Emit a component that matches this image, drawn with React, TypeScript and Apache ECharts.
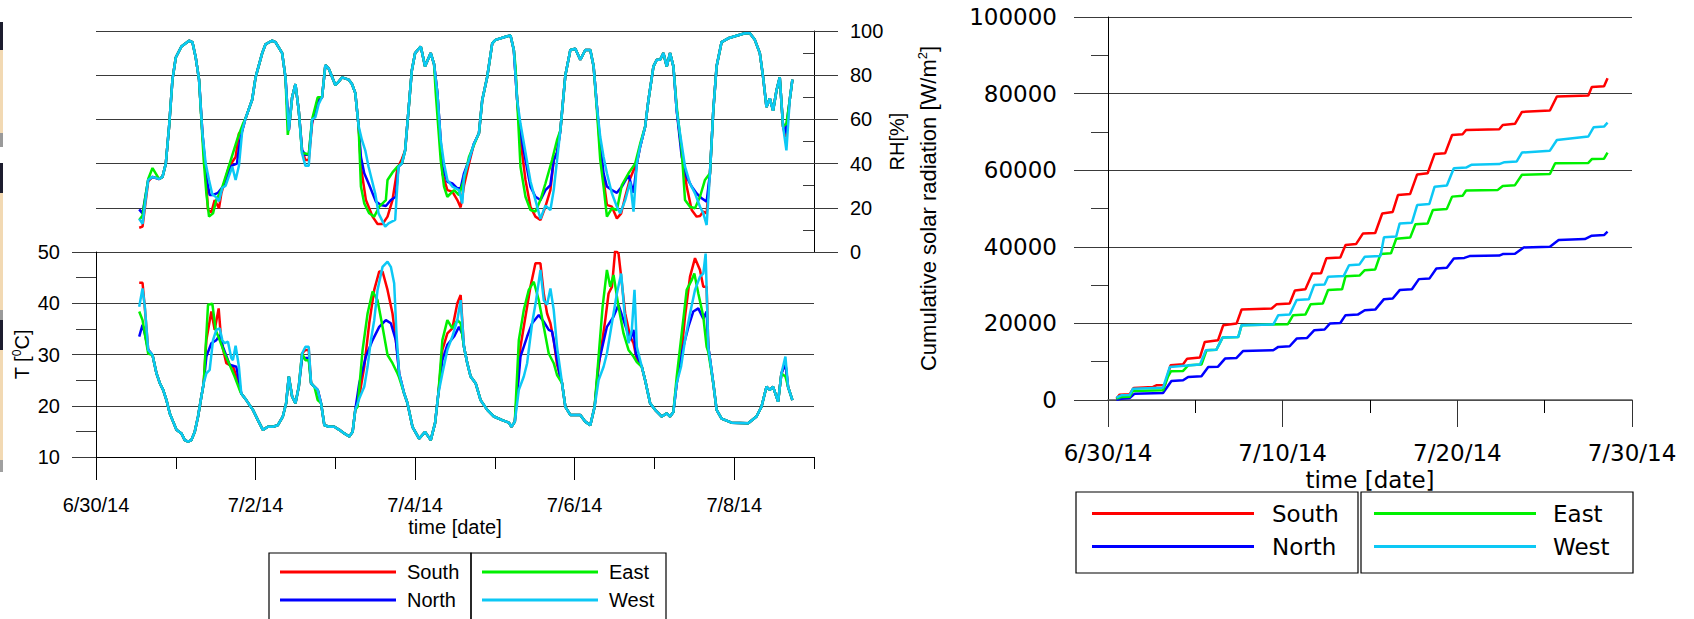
import React, { useEffect, useRef } from 'react';
import * as echarts from 'echarts';

const seriesNames = ['South', 'North', 'East', 'West'];
const seriesColors = ['#ff0000', '#0000ff', '#00f000', '#0cc8f5'];

// Left chart: x = hours since 6/30/14 00:00
const leftMajorHours = [0, 48, 96, 144, 192];
const leftMinorHours = [24, 72, 120, 168, 216];
const leftTickLabels = ['6/30/14', '7/2/14', '7/4/14', '7/6/14', '7/8/14'];
const rhMinorTicks = [10, 30, 50, 70, 90];
// Right chart: x = days since 6/30/14
const rightTickDays = [0, 10, 20, 30];
const rightTickLabels = ['6/30/14', '7/10/14', '7/20/14', '7/30/14'];

// ---------- Relative humidity [%] ----------
const westRH = [
  [13, 15], [14, 12.7], [15.7, 32.6], [17, 34], [19, 33], [20, 34], [21, 40], [22, 57], [23, 78], [24, 88],
  [25.7, 93], [28, 95.6], [29, 95], [30, 88], [31, 78], [32, 54], [33, 40], [34, 32.6], [35, 26], [36, 25],
  [37, 23], [38, 29], [39, 30], [41, 38.6], [42, 32.6], [43, 39], [44, 55], [45, 60.5], [47, 69], [48, 79],
  [50, 90], [51, 94], [53, 95.6], [54, 95], [56, 90], [57, 79], [58, 55], [59, 70], [60, 76], [61, 64],
  [62, 44.6], [63, 39], [64, 39], [65, 60], [66, 61], [67, 67], [68, 70], [69, 84.6], [70, 83], [72, 75.6],
  [73, 77], [74, 79], [76, 78], [77, 76], [78, 72], [79, 57], [80, 50.7], [81, 46], [82, 38.6], [84, 26.5],
  [85, 17.5], [87, 11.5], [88, 13], [90, 14.5], [91, 38.6], [92, 40], [93, 46], [94, 64], [95, 82], [96, 90],
  [97.7, 93], [99, 84], [100.7, 90], [101.7, 85], [102.7, 72], [103.7, 50.7], [104.7, 40], [105.7, 32.6],
  [107.2, 29.6], [109.2, 28], [110.2, 22], [110.7, 34], [112.2, 41.6], [113.7, 49], [115.2, 53.7], [116.2, 68.8],
  [117.7, 79.3], [119.2, 94.4], [120.2, 96], [123.2, 97.4], [124.7, 98], [125.7, 91.4], [126.7, 68.8],
  [127.7, 58], [129.2, 45], [130.7, 32], [132.2, 23.5], [133.7, 15], [135.2, 21], [136.7, 19], [137.7, 28],
  [138.7, 41.6], [139.7, 55], [141.2, 80], [142.7, 91.4], [144.2, 92], [145.7, 87], [147.2, 91.4], [148.7, 91.4],
  [149.7, 84], [150.7, 65.8], [151.7, 52], [152.7, 43], [153.7, 35.6], [155.2, 26.5], [156.7, 20.5],
  [157.7, 17.5], [159.2, 23.5], [160.7, 31.8], [161.7, 18.3], [162.7, 40], [163.7, 47.7], [165.2, 56.7],
  [166.2, 68.8], [167.7, 84], [168.7, 87], [169.7, 87], [170.7, 90], [171.7, 84], [172.7, 90], [173.7, 84],
  [174.7, 64], [175.7, 53.7], [177.2, 38.6], [178.7, 31], [180.2, 26.5], [181.7, 20.5], [182.7, 17.5],
  [183.7, 12.2], [184.7, 35.6], [185.7, 64], [186.7, 84], [188.2, 95], [190.2, 96.7], [195.2, 99], [196.7, 99],
  [198.2, 96], [199.7, 90], [200.7, 79], [201.7, 65.6], [202.7, 69.5], [203.7, 64], [204.7, 73], [205.7, 79],
  [206.7, 56.7], [207.7, 46], [208.7, 68.8], [209.5, 78],
];
const southRHDiff = [
  [[13, 11], [14, 11.5], [15.7, 32]],
  [[32, 54], [33, 35], [33.7, 19], [34.7, 18], [35.7, 23.5], [37, 19.8], [37.7, 26.5], [40, 38.6], [42, 43], [43, 53.7], [44, 55]],
  [[61, 64], [62, 46], [63, 41.6], [64, 41.6], [65, 58], [66.7, 69], [68, 70]],
  [[78, 72], [79, 57], [79.7, 38.6], [81.2, 23.5], [83.2, 16], [84.7, 12.7], [86.2, 12.7], [87.7, 16], [89.2, 23.5], [90.7, 38], [92, 42], [93, 46]],
  [[102.7, 72], [103.7, 50], [104.2, 35.6], [105.7, 28], [107.2, 27.3], [108.7, 23.5], [109.7, 20.2], [110.7, 30], [112.2, 40], [113.7, 49]],
  [[126.7, 68.8], [127.7, 50.7], [129.2, 32.6], [130.7, 20.5], [132.2, 16], [133.7, 14.5], [135.2, 20.5], [136.7, 28], [137.7, 41.6], [138.7, 45], [139.7, 55]],
  [[150.7, 65.8], [151.7, 46], [152.7, 32.6], [153.7, 21.3], [155.2, 20.5], [156.7, 15.2], [158, 17.5], [159.2, 25], [160.7, 33.3], [161.7, 37], [162.7, 40], [163.7, 47.7]],
  [[174.7, 64], [176.2, 46], [177.7, 29.6], [179.2, 19], [180.7, 16], [181.7, 16.3], [182.7, 18.3], [183.7, 17.5], [184.7, 35.6], [185.7, 64]],
  [[206.7, 56.7], [207.4, 52], [207.7, 53], [208.7, 68.8]],
];
const northRHDiff = [
  [[13, 19.3], [14, 17.5], [15.7, 32.6]],
  [[32, 54], [33.2, 34], [34.2, 25.8], [35.2, 25.8], [36.7, 26.8], [38.2, 29.6], [40.7, 39], [42.4, 40], [43.2, 49], [44, 55]],
  [[61, 64], [62, 46], [63, 44], [64, 44], [65, 59], [66.7, 68], [68, 70]],
  [[78, 72], [79, 57], [79.7, 43], [80.7, 35.6], [82.2, 30.3], [84.2, 22.8], [85.7, 21.3], [87.2, 20.8], [88.7, 23.5], [90.2, 25], [91, 38.6], [92, 40]],
  [[102.7, 72], [103.7, 50], [104.2, 38.6], [105.7, 31.8], [107.2, 31], [108.7, 28.8], [109.7, 28.8], [110.7, 35.6], [112.2, 41.6]],
  [[126.7, 68.8], [127.7, 53.7], [129.2, 41.6], [130.7, 29.6], [132.2, 25], [133.7, 23.5], [135.2, 28], [136.7, 30.3], [137.7, 41.6], [138.7, 45], [139.7, 55]],
  [[150.7, 65.8], [151.7, 49], [152.7, 35.6], [153.7, 29.6], [155.2, 28], [156.7, 26.8], [158.2, 29.6], [160.2, 34.8], [161.7, 26.8], [162.7, 40]],
  [[174.7, 64], [176.2, 43], [177.7, 34], [179.2, 29.6], [180.7, 26.5], [182.2, 24.3], [183.7, 22.8], [184.7, 35.6], [185.7, 64]],
  [[206.7, 56.7], [207.4, 53.7], [208.7, 68.8]],
];
const eastRHDiff = [
  [[13, 14.5], [14, 16.5], [15.7, 33], [17, 38], [19, 33]],
  [[31, 78], [32.4, 41.6], [33.2, 26.5], [34, 16], [35.2, 17.5], [36.2, 23.5], [37.7, 28], [40, 39], [42.7, 52], [44.2, 58], [45, 60.5]],
  [[57, 79], [57.7, 53], [58.5, 62], [59, 70]],
  [[61, 64], [62, 44.6], [63, 44.6], [64, 44], [65, 60], [66.7, 70], [68, 70]],
  [[78, 72], [79, 57], [79.7, 29.6], [80.7, 22], [82.2, 17.5], [83.7, 16], [85.2, 20.5], [87.2, 23.5], [87.7, 32.6], [89.2, 36], [90.7, 38.6], [92, 40]],
  [[101.7, 85], [102.2, 72], [103.7, 41.6], [104.7, 29.6], [105.7, 25], [107.7, 28], [109.2, 25.8], [110.7, 32.6], [112.2, 43], [114.7, 52], [115.2, 53.7]],
  [[125.7, 91.4], [126.2, 84], [127.7, 38.6], [129.2, 25], [130.7, 19], [132.2, 18.3], [133.7, 23.5], [135.2, 31], [137.2, 41.6], [138.7, 50.7], [139.7, 55]],
  [[149.7, 84], [150.7, 64], [151.7, 41.6], [152.7, 29.6], [153.7, 16], [155.2, 19.8], [156.7, 19], [158.2, 30.3], [160.2, 35.6], [162.2, 40], [163.7, 49]],
  [[174.7, 65.8], [176.2, 46], [177.2, 23.5], [178.7, 20.5], [180.2, 19.8], [181.7, 25], [183.2, 32.6], [184.7, 35.6], [185.7, 64]],
  [[206.7, 56.7], [207.2, 57.5], [207.7, 58], [208.7, 68.8]],
];

// ---------- Temperature [°C] ----------
const westT = [
  [13, 39.3], [14, 42.9], [14.7, 39.3], [15.7, 30.9], [17, 29.9], [18.2, 26.3], [19.2, 24.4], [20.2, 23.1],
  [21.2, 21.1], [22.2, 18.5], [23.2, 16.9], [24.2, 15.3], [25.7, 14.6], [26.7, 13.3], [27.7, 13], [28.7, 13.3],
  [29.7, 14.9], [30.7, 17.9], [31.7, 21.8], [32.4, 24.4], [33.2, 26.3], [34.2, 27], [35.2, 32.8], [36.2, 34.8],
  [37.2, 35.1], [38, 32.8], [38.7, 32.2], [39.7, 32.5], [40.7, 29.3], [41.2, 28.9], [42, 31.7], [43, 27.6],
  [43.7, 22.4], [45.2, 21.1], [47.2, 19.2], [48.7, 17.2], [50.2, 15.3], [51.7, 15.9], [53.2, 15.9], [54.7, 16.2],
  [56.2, 17.9], [57.2, 20.5], [58, 25.7], [59, 21.8], [60, 20.5], [61, 23.7], [62, 30.2], [63, 31.5], [64, 31.5],
  [64.7, 24.4], [65.7, 23.7], [66.7, 23.1], [67.7, 20.5], [68.7, 16.2], [70.2, 15.9], [71.7, 15.9], [73.2, 15.3],
  [74.7, 14.6], [76.2, 14], [77.2, 14.9], [78, 19.2], [79.2, 21.4], [80.7, 23.7], [81.7, 27.6], [82.7, 32.8],
  [83.7, 36.7], [84.7, 42.6], [86.2, 47.1], [87.7, 48.1], [88.7, 47.1], [89.7, 43.9], [90.4, 34.1], [91.2, 26.3],
  [92.7, 22.4], [93.7, 20.5], [95.2, 15.9], [97.2, 13.6], [99, 14.9], [100.7, 13.3], [102, 16.6], [103, 22.4],
  [104.2, 26.3], [105.7, 30.9], [107.2, 33.5], [108.7, 36.7], [109.7, 40.6], [110.7, 31.5], [111.7, 28.3],
  [112.7, 25.7], [114.2, 24.4], [115.7, 21.1], [117.7, 19.2], [119.7, 17.9], [122.2, 17.2], [124.2, 16.7],
  [125, 15.9], [126, 16.9], [127.2, 23.1], [128.7, 25.7], [129.7, 28.3], [131.2, 36.1], [132.4, 40.6],
  [133.7, 46.5], [134.7, 40.6], [135.7, 39.7], [136.7, 42.9], [137.7, 38.7], [138.7, 31.5], [140.2, 24.4],
  [141.2, 19.8], [142.7, 18.2], [145.7, 18.2], [147.2, 16.9], [148.7, 16.2], [150, 19.8], [151.2, 25],
  [152.7, 27.6], [153.7, 30.2], [155.2, 36.1], [156.7, 41.9], [158, 45.8], [159, 38], [160.2, 32.2],
  [161.2, 34.8], [162, 42.6], [162.7, 31.5], [164.2, 27.6], [165.2, 25], [166.7, 20.5], [168.2, 19.2],
  [170.2, 17.9], [171.7, 18.5], [172.7, 17.9], [173.7, 18.8], [174.7, 24.4], [176, 27.6], [177.2, 32.8],
  [178.7, 38], [180.2, 42.6], [181.7, 45.2], [182.7, 45.8], [183.4, 49.7], [184.2, 31.5], [185.7, 24.4],
  [186.7, 19.2], [188.2, 17.5], [191.2, 16.7], [196.2, 16.6], [198.7, 17.9], [200.2, 19.8], [201.7, 23.7],
  [202.7, 23.1], [203.7, 23.7], [205.2, 20.8], [206.2, 26.3], [207.4, 29.6], [208.2, 23.7], [209.5, 21.1],
];
const southTDiff = [
  [[13, 44], [14, 44], [14.7, 39], [15.7, 30.9]],
  [[32.4, 24.4], [33.2, 32.8], [34.7, 38.4], [35.7, 34.8], [36.9, 39], [37.7, 32.5], [39.2, 28.3], [41.2, 27.6], [42.7, 25], [43.7, 22.4]],
  [[62, 30.2], [63, 30.9], [64, 30.9], [64.7, 24.4]],
  [[78, 19.2], [79.2, 21.8], [80.7, 27.6], [82.2, 36.1], [83.7, 42.6], [85.2, 46.2], [86.2, 46.2], [87.7, 42.6], [89.2, 38], [90.7, 30.2], [91.2, 26.3]],
  [[103, 22.4], [104.2, 30.9], [105.7, 34.1], [107.2, 35.1], [108.7, 40], [109.7, 41.6], [110.7, 31.5]],
  [[126, 16.9], [127.7, 31.5], [129.2, 37.4], [130.7, 43.2], [132.2, 47.8], [133.7, 47.8], [134.7, 41.9], [135.7, 38], [136.7, 36.1], [137.7, 32.8], [138.7, 28], [140.2, 24.4]],
  [[150, 19.8], [151.2, 27.6], [153.2, 36.7], [154.2, 41.9], [155.2, 43.2], [156.2, 50.4], [157.2, 49.7], [158.2, 43.9], [159.2, 38], [160.7, 33.5], [161.7, 32.2], [162.7, 29], [164.2, 27.6]],
  [[173.7, 18.8], [174.7, 24.4], [176, 29.6], [177.2, 37.4], [178.7, 45.2], [180.2, 48.8], [181.7, 46.5], [182.7, 43.2], [183.7, 43.2], [184.2, 31.5]],
  [[206.2, 26.3], [207.4, 28.3], [208.2, 23.7]],
];
const northTDiff = [
  [[13, 33.5], [14, 35.8], [14.7, 34], [15.7, 30.9]],
  [[32.4, 24.4], [33.2, 29.6], [34.7, 32.2], [36.2, 32.8], [37.2, 33.8], [38.2, 31.5], [40.2, 28], [42.2, 27.6], [43, 25], [43.7, 22.4]],
  [[62, 29.3], [63, 29.3], [64, 29.3], [64.7, 24.4]],
  [[78, 19.2], [79.2, 24.4], [81.2, 29.6], [83.2, 32.8], [85.2, 35.4], [87.2, 36.7], [88.7, 36.1], [90.2, 32.8], [91.2, 26.3]],
  [[103, 22.4], [104.2, 28.9], [105.7, 31.9], [107.7, 33.5], [109.2, 35.4], [110.2, 34], [110.7, 31.5]],
  [[126, 16.9], [127.7, 29.6], [129.7, 33.5], [131.2, 36.1], [133.2, 37.7], [134.7, 36.4], [136.2, 34.8], [137.2, 34.5], [138.2, 30.9], [139.5, 26], [140.2, 24.4]],
  [[150, 19.8], [151.2, 28.3], [153.7, 35.4], [155.7, 37.4], [157.2, 39.7], [158.7, 36.7], [160.7, 32.8], [161.7, 34.8], [162.4, 30.2], [164.2, 27.6]],
  [[173.7, 18.8], [174.7, 24.4], [176.2, 30.2], [178.2, 35.4], [179.7, 38.4], [181.2, 39], [182.7, 37], [183.7, 38.4], [184.2, 31.5]],
  [[206.2, 26.3], [207.4, 28.3], [208.2, 23.7]],
];
const eastTDiff = [
  [[13, 38.4], [14, 36.7], [15.7, 30.2], [17, 29.9]],
  [[32.4, 24.4], [33.7, 39.7], [35, 39.9], [36, 34.8], [37.2, 32.8], [38.7, 30.2], [40.2, 28], [41.7, 25.7], [43.2, 23.1], [43.7, 22.4]],
  [[62, 30.2], [63, 28.9], [64, 28.9], [64.7, 24.4], [65.7, 23.7], [66.7, 21.1], [67.7, 20.5]],
  [[78, 19.2], [78.7, 19.8], [80.2, 30.9], [81.7, 38], [83.2, 42.3], [84.7, 40.6], [86.2, 35.4], [87.7, 29.9], [89.2, 28.3], [90.7, 26.3], [91.2, 25.5], [92.7, 22.4]],
  [[103, 22.4], [104.2, 32.8], [105.7, 36.7], [107.2, 35.1], [108.7, 36.7], [109.7, 36.1], [110.7, 31.5]],
  [[126, 16.9], [127.2, 32.8], [128.7, 38.7], [130.2, 42.6], [131.7, 44.2], [133.2, 40.6], [134.7, 35.4], [136.2, 30.2], [137.7, 28.3], [138.7, 26], [140.2, 24.4]],
  [[150, 19.8], [151.2, 29.6], [152.4, 39.3], [153.7, 46.5], [154.7, 43.2], [155.7, 45.5], [157.2, 39.3], [158.7, 34.1], [160.2, 30.9], [161.7, 29.6], [162.7, 28.5], [164.2, 27.6]],
  [[173.7, 18.8], [174.7, 25.7], [176.2, 34.1], [177.7, 42.6], [179.2, 44.5], [180, 45.8], [181.2, 41.9], [182.7, 37.4], [183.7, 31.5], [184.2, 30.5], [185.7, 24.4]],
  [[206.2, 26.3], [207.4, 25.7], [208.2, 23.7]],
];

// ---------- Cumulative solar radiation [W/m2], x in days ----------
const southCum = [
  [0.48, 300], [0.67, 1400], [1.24, 1500], [1.47, 3140], [2.58, 3400], [2.77, 3840], [3.25, 3900], [3.58, 9070],
  [4.3, 9330], [4.53, 10800], [5.26, 11070], [5.54, 15170], [6.3, 15600], [6.6, 19530], [7.36, 19960],
  [7.65, 23630], [9.37, 23890], [9.66, 25020], [10.4, 25200], [10.7, 28600], [11.3, 28900], [11.7, 33000],
  [12.2, 33100], [12.5, 37000], [13.3, 37200], [13.6, 40450], [14.2, 40700], [14.6, 43500], [15.3, 43600],
  [15.7, 48700], [16.3, 49100], [16.6, 53500], [17.3, 53800], [17.7, 58900], [18.3, 59200], [18.7, 64250],
  [19.3, 64400], [19.7, 69200], [20.3, 69400], [20.5, 70500], [22.4, 70700], [22.6, 71800], [23.3, 72100],
  [23.7, 75200], [25.3, 75600], [25.7, 79250], [27.5, 79500], [27.7, 81700], [28.4, 81900], [28.6, 84000],
];
const northCum = [
  [0.48, 90], [0.76, 350], [1.24, 520], [1.53, 1660], [3.15, 1830], [3.63, 4970], [4.3, 5140], [4.59, 6020],
  [5.35, 6190], [5.74, 8630], [6.3, 8700], [6.7, 10810], [7.36, 10980], [7.74, 12800], [9.46, 12990],
  [9.75, 13860], [10.4, 14040], [10.8, 16040], [11.4, 16200], [11.8, 18200], [12.4, 18400], [12.7, 19960],
  [13.3, 20100], [13.6, 22150], [14.3, 22300], [14.7, 23450], [15.3, 23600], [15.8, 26330], [16.3, 26500],
  [16.7, 28700], [17.4, 28900], [17.8, 31560], [18.4, 31700], [18.8, 34350], [19.4, 34500], [19.8, 36960],
  [20.4, 37100], [20.7, 37570], [22.4, 37700], [22.6, 38100], [23.3, 38200], [23.8, 39840], [25.3, 40020],
  [25.8, 41760], [27.3, 42020], [27.7, 42900], [28.4, 43070], [28.6, 43940],
];
const eastCum = [
  [0.48, 350], [0.76, 780], [1.24, 850], [1.43, 2350], [3.15, 2530], [3.44, 6190], [3.6, 7500], [4.3, 7600],
  [4.6, 9070], [5.35, 9240], [5.64, 12990], [6.2, 13100], [6.56, 16300], [7.46, 16480], [7.65, 19530],
  [10.3, 19800], [10.6, 22150], [11.3, 22300], [11.6, 25000], [12.3, 25200], [12.6, 28700], [13.4, 28900],
  [13.6, 32300], [14.4, 32500], [14.7, 33900], [15.3, 34100], [15.6, 38100], [16.2, 38300], [16.5, 42100],
  [17.3, 42400], [17.6, 45900], [18.3, 46100], [18.6, 49600], [19.4, 49900], [19.7, 53100], [20.3, 53300],
  [20.5, 54700], [22.3, 54800], [22.6, 55900], [23.3, 56100], [23.7, 58800], [25.3, 59000], [25.6, 61800],
  [27.5, 61900], [27.7, 62900], [28.4, 63000], [28.6, 64600],
];
const westCum = [
  [0.48, 600], [0.76, 1220], [1.24, 1300], [1.43, 2960], [3.15, 3230], [3.54, 8630], [4.2, 8900], [5.26, 9240],
  [5.6, 12990], [6.2, 13100], [6.56, 16300], [7.46, 16480], [7.65, 19530], [9.46, 19700], [9.75, 22150],
  [10.4, 22300], [10.8, 26100], [11.5, 26300], [11.8, 30000], [12.4, 30150], [12.6, 32200], [13.5, 32400],
  [13.8, 35200], [14.4, 35400], [14.7, 37400], [15.6, 37600], [15.8, 42500], [16.5, 42700], [16.7, 46100],
  [17.4, 46300], [17.7, 50900], [18.4, 51200], [18.7, 55700], [19.4, 56000], [19.8, 60500], [20.5, 60700],
  [20.8, 61400], [22.4, 61600], [22.7, 62100], [23.4, 62300], [23.7, 64600], [25.3, 65100], [25.7, 67900],
  [27.5, 68800], [27.8, 71200], [28.4, 71400], [28.6, 72400],
];

// Where a facade departs from the common (West) trace, its own readings replace it.
function withDiffs(common: number[][], windows: number[][][]) {
  let pts = common.slice();
  for (const w of windows) {
    const lo = w[0][0];
    const hi = w[w.length - 1][0];
    pts = pts.filter((p) => p[0] < lo || p[0] > hi).concat(w);
  }
  return pts.sort((a, b) => a[0] - b[0]);
}

const rhData = [withDiffs(westRH, southRHDiff), withDiffs(westRH, northRHDiff), withDiffs(westRH, eastRHDiff), westRH];
const tData = [withDiffs(westT, southTDiff), withDiffs(westT, northTDiff), withDiffs(westT, eastTDiff), westT];
const cumData = [southCum, northCum, eastCum, westCum];

const LS = 'Liberation Sans';
const DV = 'DejaVu Sans';
const GRID = '#3a3a3a';

export default function App() {
  const ref = useRef<HTMLDivElement>(null);
  useEffect(() => {
    if (!ref.current) return;
    const chart = echarts.init(ref.current, null, { renderer: 'svg' });

    const lineSeries = (name: string, i: number, data: number[][], xi: number, yi: number) => ({
      name,
      type: 'line',
      xAxisIndex: xi,
      yAxisIndex: yi,
      data,
      showSymbol: false,
      symbol: 'none',
      lineStyle: { color: seriesColors[i], width: 2.5 },
      itemStyle: { color: seriesColors[i] },
      z: 3 + i,
    });

    const series: any[] = [];
    seriesNames.forEach((n, i) => series.push(lineSeries(n, i, rhData[i], 0, 0)));
    seriesNames.forEach((n, i) => series.push(lineSeries(n, i, tData[i], 1, 1)));
    seriesNames.forEach((n, i) => series.push(lineSeries(n, i, cumData[i], 3, 3)));

    const leftLabel = (v: number) => {
      const k = leftMajorHours.indexOf(v);
      return k >= 0 ? leftTickLabels[k] : '';
    };
    const rightLabel = (v: number) => {
      const k = rightTickDays.indexOf(v);
      return k >= 0 ? rightTickLabels[k] : '';
    };

    const legendBase = (data: string[], left: number, top: number, w: number, fs: number, ff: string, gap: number, pad: number) => ({
      data,
      orient: 'vertical',
      left,
      top,
      padding: 0,
      itemWidth: w,
      itemHeight: 3,
      itemGap: gap,
      icon: 'rect',
      selectedMode: false,
      textStyle: { fontSize: fs, fontFamily: ff, color: '#000', padding: [0, 0, 0, pad] },
    });

    const strip = [
      [22, 50, '#1c1d2e'], [50, 133, '#f2d9b3'], [133, 147, '#9a9a9a'], [163, 193, '#1c1d2e'],
      [193, 310, '#f2d9b3'], [310, 320, '#9a9a9a'], [320, 350, '#1c1d2e'], [350, 460, '#f2d9b3'], [460, 472, '#a0a0a0'],
    ];

    const hiddenLine = { show: false, onZero: false };

    const option: any = {
      animation: false,
      backgroundColor: '#fff',
      textStyle: { fontFamily: LS, color: '#000' },
      grid: [
        { left: 96, top: 31, width: 718, height: 221, outerBoundsMode: 'none', show: false },
        { left: 96, top: 252, width: 718, height: 205, outerBoundsMode: 'none', show: false },
        { left: 1108, top: 17, width: 524, height: 383, outerBoundsMode: 'none', show: false },
      ],
      xAxis: [
        {
          type: 'value', gridIndex: 0, min: 0, max: 216, position: 'bottom', show: false,
          axisLine: hiddenLine, axisTick: { show: false }, axisLabel: { show: false }, splitLine: { show: false },
        },
        {
          type: 'value', gridIndex: 1, min: 0, max: 216, position: 'bottom',
          name: 'time [date]', nameLocation: 'middle', nameGap: 60,
          nameTextStyle: { fontSize: 20, fontFamily: LS, color: '#000' },
          axisLine: { show: true, onZero: false, lineStyle: { color: '#000', width: 1 } },
          axisTick: { show: true, customValues: leftMajorHours, length: 23, lineStyle: { color: '#000', width: 1 } },
          axisLabel: { show: true, customValues: leftMajorHours, formatter: leftLabel, fontSize: 20, fontFamily: LS, color: '#000', margin: 38 },
          splitLine: { show: false },
        },
        {
          type: 'value', gridIndex: 1, min: 0, max: 216, position: 'bottom',
          axisLine: hiddenLine,
          axisTick: { show: true, customValues: leftMinorHours, length: 12, lineStyle: { color: '#000', width: 1 } },
          axisLabel: { show: false }, splitLine: { show: false },
        },
        {
          type: 'value', gridIndex: 2, min: 0, max: 30, interval: 10, position: 'bottom',
          name: 'time [date]', nameLocation: 'middle', nameGap: 67,
          nameTextStyle: { fontSize: 23, fontFamily: DV, color: '#000' },
          axisLine: { show: true, onZero: false, lineStyle: { color: '#555', width: 1.5 } },
          axisTick: { show: true, length: 27, lineStyle: { color: '#333', width: 1 } },
          minorTick: { show: true, splitNumber: 2, length: 13, lineStyle: { color: '#000', width: 1 } },
          axisLabel: { show: true, formatter: rightLabel, fontSize: 23, fontFamily: DV, color: '#000', margin: 41 },
          splitLine: { show: false },
        },
      ],
      yAxis: [
        {
          type: 'value', gridIndex: 0, min: 0, max: 100, interval: 20, position: 'right',
          name: 'RH[%]', nameLocation: 'middle', nameRotate: 90, nameGap: 52,
          nameTextStyle: { fontSize: 20, fontFamily: LS, color: '#000' },
          axisLine: { show: true, onZero: false, lineStyle: { color: '#000', width: 1 } },
          axisTick: { show: true, length: 24, lineStyle: { color: GRID, width: 1 } },
          axisLabel: { show: true, fontSize: 20, fontFamily: LS, color: '#000', margin: 36 },
          splitLine: { show: true, lineStyle: { color: GRID, width: 1 } },
        },
        {
          type: 'value', gridIndex: 1, min: 10, max: 50, interval: 10, position: 'left',
          name: 'T [{sup|0}C]', nameLocation: 'middle', nameRotate: 90, nameGap: 63,
          nameTextStyle: {
            fontSize: 20, fontFamily: LS, color: '#000', lineHeight: 22,
            rich: { sup: { fontSize: 12, fontFamily: LS, color: '#000', verticalAlign: 'top', lineHeight: 12 } },
          },
          axisLine: { show: true, onZero: false, lineStyle: { color: '#000', width: 1 } },
          axisTick: { show: true, length: 24, lineStyle: { color: GRID, width: 1 } },
          minorTick: { show: true, splitNumber: 2, length: 20, lineStyle: { color: GRID, width: 1 } },
          axisLabel: { show: true, fontSize: 20, fontFamily: LS, color: '#000', margin: 36 },
          splitLine: { show: true, lineStyle: { color: GRID, width: 1 } },
        },
        {
          type: 'value', gridIndex: 0, min: 0, max: 100, position: 'right',
          axisLine: hiddenLine,
          axisTick: { show: true, inside: true, customValues: rhMinorTicks, length: 11, lineStyle: { color: GRID, width: 1 } },
          axisLabel: { show: false }, splitLine: { show: false },
        },
        {
          type: 'value', gridIndex: 2, min: 0, max: 100000, interval: 20000, position: 'left',
          name: 'Cumulative solar radiation [W/m{sup|2}]', nameLocation: 'middle', nameRotate: 90, nameGap: 168,
          nameTextStyle: {
            fontSize: 22, fontFamily: LS, color: '#000', lineHeight: 24,
            rich: { sup: { fontSize: 13, fontFamily: LS, color: '#000', verticalAlign: 'top', lineHeight: 13 } },
          },
          axisLine: { show: true, onZero: false, lineStyle: { color: '#000', width: 1 } },
          axisTick: { show: true, length: 34, lineStyle: { color: GRID, width: 1 } },
          minorTick: { show: true, splitNumber: 2, length: 17, lineStyle: { color: GRID, width: 1 } },
          axisLabel: { show: true, formatter: (v: number) => String(v), fontSize: 23, fontFamily: DV, color: '#000', margin: 51 },
          splitLine: { show: true, lineStyle: { color: GRID, width: 1 } },
        },
      ],
      legend: [
        legendBase(['South', 'North'], 280, 562, 116, 20, LS, 8, 6),
        legendBase(['East', 'West'], 482, 562, 116, 20, LS, 8, 6),
        legendBase(['South', 'North'], 1092, 502, 162, 23, DV, 10, 13),
        legendBase(['East', 'West'], 1374, 502, 162, 23, DV, 10, 12),
      ],
      graphic: [
        { type: 'rect', shape: { x: 269, y: 553, width: 202, height: 110 }, style: { fill: 'none', stroke: '#000', lineWidth: 1.2 } },
        { type: 'rect', shape: { x: 471, y: 553, width: 195, height: 110 }, style: { fill: 'none', stroke: '#000', lineWidth: 1.2 } },
        { type: 'rect', shape: { x: 1076, y: 492, width: 282, height: 81 }, style: { fill: 'none', stroke: '#000', lineWidth: 1.2 } },
        { type: 'rect', shape: { x: 1361, y: 492, width: 272, height: 81 }, style: { fill: 'none', stroke: '#000', lineWidth: 1.2 } },
        ...strip.map((s) => ({
          type: 'rect', shape: { x: 0, y: s[0] as number, width: 3, height: (s[1] as number) - (s[0] as number) },
          style: { fill: s[2] as string },
        })),
      ],
      series,
    };
    chart.setOption(option);
    return () => chart.dispose();
  }, []);

  return <div ref={ref} style={{ position: 'absolute', left: 0, top: 0, width: 1694, height: 619 }} />;
}
